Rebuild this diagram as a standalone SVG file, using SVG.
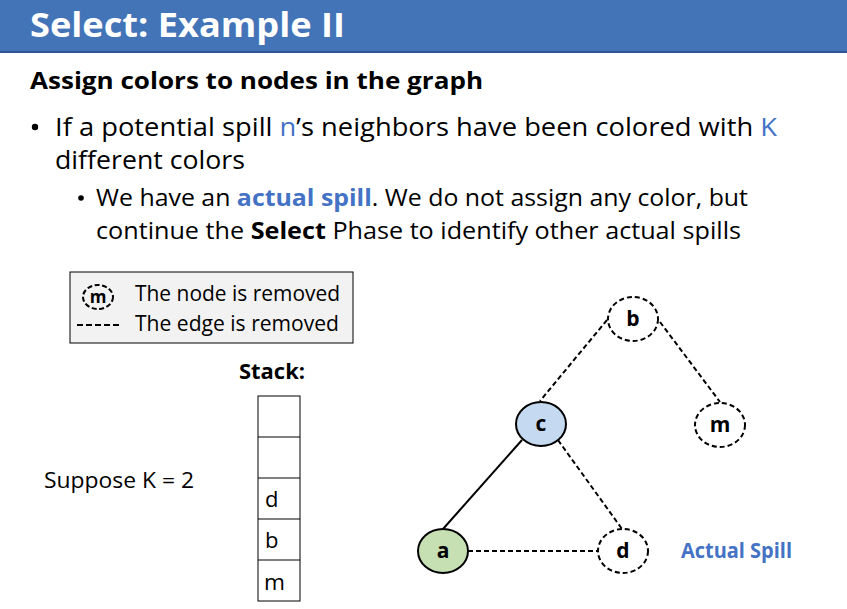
<svg xmlns="http://www.w3.org/2000/svg" width="847" height="609" viewBox="0 0 847 609">
<style>
.t{font-family:"Open Sans","Liberation Sans",sans-serif;fill:#000}
.b{font-weight:bold}
.blue{fill:#4472c4}
.node{stroke:#000;stroke-width:2}
.rm{fill:#fff;stroke-dasharray:5 3}
.e{stroke:#000;stroke-width:2;fill:none}
.ed{stroke-dasharray:5 3}
.lbl{font-family:"Open Sans","Liberation Sans",sans-serif;font-weight:bold;font-size:21px;text-anchor:middle}
</style>
<rect width="847" height="609" fill="#fff"/>
<rect x="0" y="0" width="847" height="52" fill="#4374b7"/>
<rect x="0" y="51" width="847" height="2" fill="#2f5597"/>
<text x="30" y="37" class="t b" font-size="34" style="fill:#fff" textLength="315" lengthAdjust="spacingAndGlyphs">Select: Example II</text>
<text x="30" y="89" class="t b" font-size="24" textLength="453" lengthAdjust="spacingAndGlyphs">Assign colors to nodes in the graph</text>
<circle cx="35" cy="127" r="3.2" fill="#000"/>
<text x="55" y="136" class="t" font-size="26" textLength="722" lengthAdjust="spacingAndGlyphs">If a potential spill <tspan class="blue">n</tspan>’s neighbors have been colored with <tspan class="blue">K</tspan></text>
<text x="55" y="169" class="t" font-size="26" textLength="190" lengthAdjust="spacingAndGlyphs">different colors</text>
<circle cx="81" cy="198" r="2.8" fill="#000"/>
<text x="96" y="206" class="t" font-size="24" textLength="652" lengthAdjust="spacingAndGlyphs">We have an <tspan class="b blue">actual spill</tspan>. We do not assign any color, but</text>
<text x="96" y="239" class="t" font-size="24" textLength="645" lengthAdjust="spacingAndGlyphs">continue the <tspan class="b">Select</tspan> Phase to identify other actual spills</text>

<g id="legend">
<rect x="70" y="272" width="283" height="71" fill="#f2f2f2" stroke="#000" stroke-width="1"/>
<ellipse cx="98" cy="297" rx="15" ry="12" fill="none" stroke="#000" stroke-width="2" stroke-dasharray="5 2.5"/>
<text x="98" y="303" class="lbl" style="font-size:17px">m</text>
<text x="135" y="301" class="t" font-size="21" textLength="205" lengthAdjust="spacingAndGlyphs">The node is removed</text>
<line x1="77" y1="325" x2="120" y2="325" stroke="#000" stroke-width="2" stroke-dasharray="6 3"/>
<text x="135" y="331" class="t" font-size="21" textLength="204" lengthAdjust="spacingAndGlyphs">The edge is removed</text>
</g>

<g id="stack">
<text x="239" y="379" class="t b" font-size="21" textLength="66" lengthAdjust="spacingAndGlyphs">Stack:</text>
<rect x="258" y="396" width="42" height="205" fill="#fff" stroke="#000" stroke-width="1"/>
<line x1="258" y1="437" x2="300" y2="437" stroke="#000"/>
<line x1="258" y1="478" x2="300" y2="478" stroke="#000"/>
<line x1="258" y1="519" x2="300" y2="519" stroke="#000"/>
<line x1="258" y1="560" x2="300" y2="560" stroke="#000"/>
<text x="265" y="507" class="t" font-size="22">d</text>
<text x="265" y="548" class="t" font-size="22">b</text>
<text x="264" y="590" class="t" font-size="22" textLength="21" lengthAdjust="spacingAndGlyphs">m</text>
</g>

<text x="44" y="488" class="t" font-size="21" textLength="150" lengthAdjust="spacingAndGlyphs">Suppose K = 2</text>

<g id="edges">
<line class="e ed" x1="607" y1="320" x2="540" y2="401"/>
<line class="e ed" x1="660" y1="322" x2="720" y2="402"/>
<line class="e" x1="522" y1="440" x2="443" y2="529"/>
<line class="e ed" x1="558" y1="440" x2="622" y2="529"/>
<line class="e ed" x1="468" y1="551" x2="598" y2="551"/>
</g>

<g id="node-b"><ellipse class="node rm" cx="633" cy="319" rx="25" ry="22"/><text x="633" y="326" class="lbl">b</text></g>
<g id="node-c"><ellipse class="node" cx="541" cy="424" rx="25" ry="22" fill="#c5d9f0"/><text x="541" y="431" class="lbl">c</text></g>
<g id="node-m"><ellipse class="node rm" cx="720" cy="425" rx="25" ry="22"/><text x="720" y="432" class="lbl">m</text></g>
<g id="node-a"><ellipse class="node" cx="443" cy="551" rx="25" ry="22" fill="#c6e0b4"/><text x="443" y="558" class="lbl">a</text></g>
<g id="node-d"><ellipse class="node rm" cx="623" cy="551" rx="25" ry="22"/><text x="623" y="558" class="lbl">d</text></g>

<text x="681" y="558" class="t b blue" font-size="21" textLength="111" lengthAdjust="spacingAndGlyphs">Actual Spill</text>
</svg>
